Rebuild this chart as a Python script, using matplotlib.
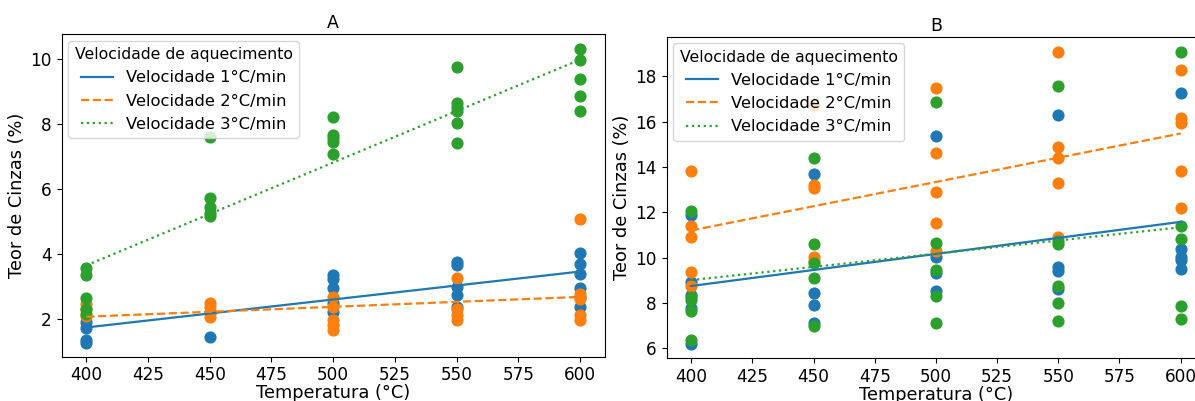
import matplotlib
matplotlib.use("Agg")
import matplotlib.pyplot as plt

# Temperaturas (°C)
temps = [400, 450, 500, 550, 600]

# Painel A - pontos por temperatura
a_v1 = [[1.92, 1.71, 1.35, 1.25],
        [1.44, 2.2],
        [3.35, 3.22, 2.94, 2.5, 2.22],
        [3.76, 3.66, 2.99, 2.74, 2.36],
        [4.02, 3.68, 3.38, 2.94, 2.69, 2.38]]
a_v2 = [[2.45, 2.3, 2.1],
        [2.5, 2.38, 2.17, 2.07],
        [2.69, 2.38, 1.97, 1.82, 1.65],
        [3.25, 2.3, 2.12, 1.97],
        [5.09, 2.77, 2.6, 2.12, 1.97]]
a_v3 = [[3.58, 3.34, 2.64, 2.3, 2.15],
        [7.61, 5.71, 5.46, 5.27, 5.17],
        [8.22, 7.66, 7.56, 7.45, 7.08],
        [9.76, 8.66, 8.51, 8.41, 8.02, 7.41],
        [10.31, 9.97, 9.38, 8.87, 8.41]]
# retas de ajuste (valor em 400 e 600 °C)
a_fit = {"v1": [1.74, 3.46], "v2": [2.07, 2.68], "v3": [3.65, 9.98]}

# Painel B - pontos por temperatura
b_v1 = [[11.88, 8.94, 8.35, 7.76, 6.18],
        [13.68, 8.45, 7.91, 7.1],
        [15.38, 10.01, 9.31, 8.53],
        [16.29, 9.57, 9.42, 8.6],
        [17.28, 10.37, 10.01, 9.9, 9.48]]
b_v2 = [[13.82, 11.41, 10.9, 9.38, 8.76],
        [16.75, 13.2, 13.09, 10.01, 9.85],
        [17.5, 14.64, 12.91, 11.51, 10.29],
        [19.06, 14.89, 14.38, 13.28, 10.9],
        [18.28, 16.15, 15.95, 13.84, 12.18]]
b_v3 = [[12.07, 8.28, 8.13, 7.65, 6.35],
        [14.38, 10.6, 9.75, 9.09, 6.98],
        [16.88, 10.63, 9.45, 8.31, 7.13],
        [17.57, 10.75, 10.6, 8.75, 8.01, 7.22],
        [19.08, 11.41, 10.81, 7.87, 7.29]]
b_fit = {"v1": [8.75, 11.58], "v2": [11.2, 15.48], "v3": [9.01, 11.34]}

labels = ["Velocidade 1°C/min", "Velocidade 2°C/min", "Velocidade 3°C/min"]
colors = ["#1f77b4", "#ff7f0e", "#2ca02c"]
styles = ["-", "--", ":"]

fig = plt.figure(figsize=(11.95, 4.01), dpi=100)
ax_a = fig.add_axes([0.0516, 0.1105, 0.4544, 0.8047])
ax_b = fig.add_axes([0.5579, 0.1065, 0.4506, 0.8020])


def draw_panel(ax, series, fits, title, ylim, yticks):
    for pts, col in zip(series, colors):
        xs = [t for t, vals in zip(temps, pts) for _ in vals]
        ys = [v for vals in pts for v in vals]
        ax.scatter(xs, ys, s=60, color=col, zorder=2)
    for key, lab, col, ls in zip(["v1", "v2", "v3"], labels, colors, styles):
        ax.plot([temps[0], temps[-1]], fits[key], color=col, linestyle=ls,
                linewidth=1.6, label=lab, zorder=3)
    ax.set_title(title, fontsize=12.5, pad=4)
    ax.set_xlabel("Temperatura (°C)", fontsize=12.8, labelpad=0)
    ax.set_ylabel("Teor de Cinzas (%)", fontsize=12.8, labelpad=3)
    ax.set_xlim(390, 610)
    ax.set_ylim(*ylim)
    ax.set_xticks(range(400, 601, 25))
    ax.set_yticks(yticks)
    ax.tick_params(labelsize=12.2)
    ax.legend(title="Velocidade de aquecimento", loc="upper left", fontsize=11.8,
              title_fontsize=11.3, borderaxespad=0.4)


draw_panel(ax_a, [a_v1, a_v2, a_v3], a_fit, "A", (0.84, 10.77), [2, 4, 6, 8, 10])
draw_panel(ax_b, [b_v1, b_v2, b_v3], b_fit, "B", (5.56, 19.75), [6, 8, 10, 12, 14, 16, 18])

fig.savefig("out.png", dpi=100, facecolor="white")
